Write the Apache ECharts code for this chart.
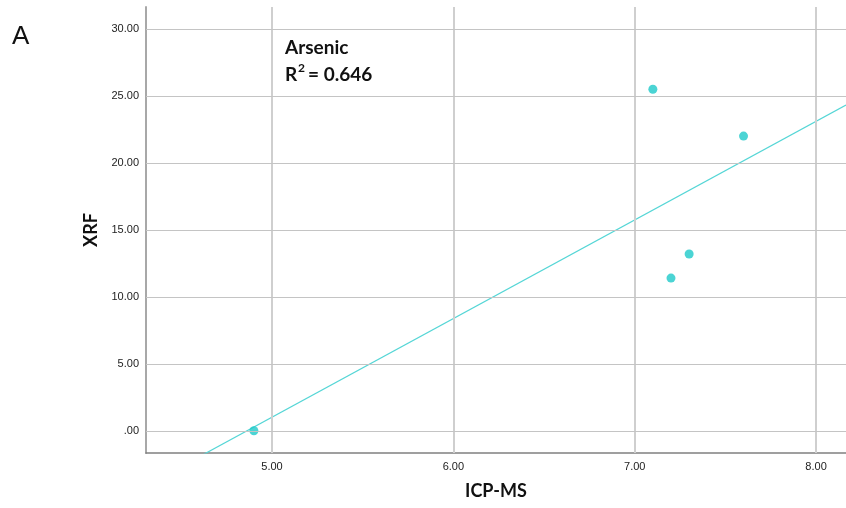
<!DOCTYPE html>
<html>
<head>
<meta charset="utf-8">
<script src="https://cdn.jsdelivr.net/npm/echarts@6/dist/echarts.min.js"></script>
<style>
html,body{margin:0;padding:0;background:#fff;}
#c{width:846px;height:508px;}
</style>
</head>
<body>
<div id="c"></div>
<script>
// Data
const icpms = [4.9, 7.1, 7.2, 7.3, 7.6];
const xrf = [0.0, 25.5, 11.4, 13.2, 22.0];
const xTicks = [5, 6, 7, 8];
const yTicks = [0, 5, 10, 15, 20, 25, 30];
const xRange = [4.305, 8.165];
const yRange = [-1.66, 31.64];

// least-squares fit line
const n = icpms.length;
const mx = icpms.reduce((a, b) => a + b, 0) / n;
const my = xrf.reduce((a, b) => a + b, 0) / n;
let sxy = 0, sxx = 0;
for (let i = 0; i < n; i++) { sxy += (icpms[i] - mx) * (xrf[i] - my); sxx += (icpms[i] - mx) ** 2; }
const slope = sxy / sxx, icpt = my - slope * mx;
const fit = xRange.map(x => [x, icpt + slope * x]);

const fmt = v => v === 0 ? '.00' : v.toFixed(2);
const chart = echarts.init(document.getElementById('c'), null, { renderer: 'canvas' });

const gridMarks = [];
xTicks.forEach(v => gridMarks.push({ xAxis: v, lineStyle: { color: '#cfcfcf', width: 2, type: 'solid' } }));
yTicks.forEach(v => gridMarks.push({ yAxis: v, lineStyle: { color: '#c4c4c4', width: 1, type: 'solid' } }));

chart.setOption({
  animation: false,
  backgroundColor: '#fff',
  grid: { left: 146, top: 7, right: 0, bottom: 55, containLabel: false },
  xAxis: {
    type: 'value', min: xRange[0], max: xRange[1],
    name: 'ICP-MS', nameLocation: 'middle', nameGap: 29,
    nameTextStyle: { fontFamily: 'Lato', fontWeight: 'bold', fontSize: 18, color: '#111' },
    axisLine: { show: true, onZero: false, lineStyle: { color: '#808080', width: 1.5 } },
    axisTick: { show: false },
    splitLine: { show: false },
    axisLabel: { customValues: xTicks, formatter: fmt, fontFamily: 'Liberation Sans', fontSize: 11, color: '#222', margin: 8 }
  },
  yAxis: {
    type: 'value', min: yRange[0], max: yRange[1],
    name: 'XRF', nameLocation: 'middle', nameGap: 46, nameRotate: 90,
    nameTextStyle: { fontFamily: 'Lato', fontWeight: 'bold', fontSize: 18, color: '#111' },
    axisLine: { show: true, onZero: false, lineStyle: { color: '#a8a8a8', width: 2 } },
    axisTick: { show: false },
    splitLine: { show: false },
    axisLabel: { customValues: yTicks, formatter: fmt, fontFamily: 'Liberation Sans', fontSize: 11, color: '#222', margin: 7 }
  },
  series: [
    {
      type: 'line', data: [], z: 0, silent: true,
      markLine: { silent: true, symbol: ['none', 'none'], label: { show: false }, animation: false, data: gridMarks }
    },
    {
      type: 'line', data: fit, showSymbol: false, symbol: 'none', z: 2,
      lineStyle: { color: '#55d6d6', width: 1.2 }, clip: true, silent: true
    },
    {
      type: 'scatter', data: icpms.map((x, i) => [x, xrf[i]]), symbolSize: 9, z: 3,
      itemStyle: { color: '#1ec9c9' }
    }
  ],
  graphic: [
    { type: 'text', left: 12, top: 24, style: { text: 'A', fontFamily: 'Liberation Sans', fontSize: 26, fill: '#111' } },
    { type: 'text', left: 285, top: 38, style: { text: 'Arsenic', fontFamily: 'Lato', fontWeight: 'bold', fontSize: 19, fill: '#111' } },
    { type: 'text', left: 285, top: 65, style: { text: 'R', fontFamily: 'Lato', fontWeight: 'bold', fontSize: 19, fill: '#111' } },
    { type: 'text', left: 298, top: 62, style: { text: '2', fontFamily: 'Lato', fontWeight: 'bold', fontSize: 12, fill: '#111' } },
    { type: 'text', left: 308, top: 65, style: { text: '= 0.646', fontFamily: 'Lato', fontWeight: 'bold', fontSize: 19, fill: '#111' } }
  ]
});
</script>
</body>
</html>
